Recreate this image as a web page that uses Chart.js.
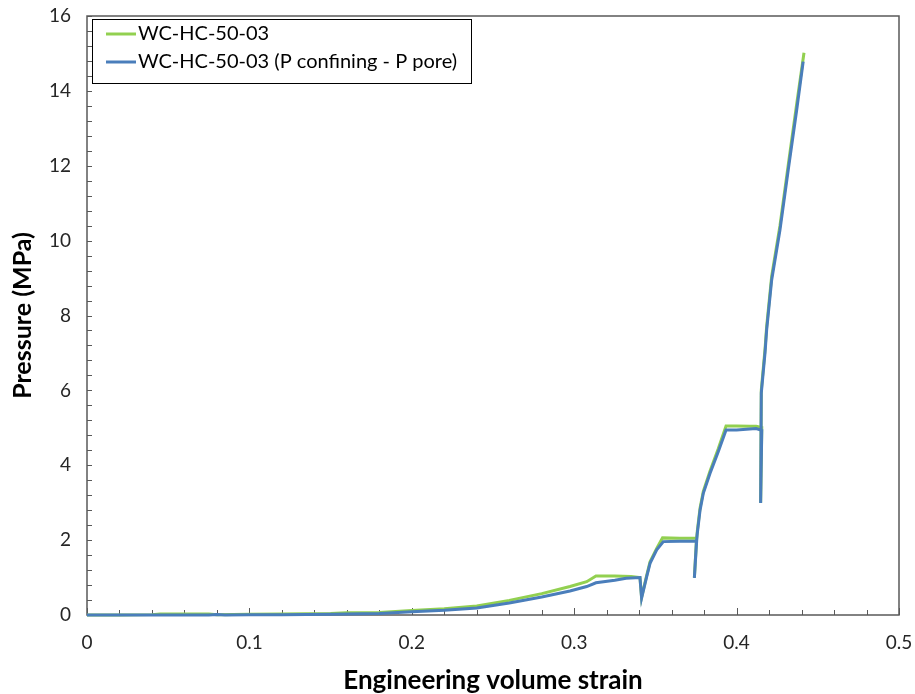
<!DOCTYPE html>
<html>
<head>
<meta charset="utf-8">
<script src="https://cdn.jsdelivr.net/npm/chart.js@4/dist/chart.umd.min.js"></script>
<style>
    body { margin: 0; background: #fff; }
    #contenedor { width: 915px; height: 694px; }
</style>
</head>
<body>
<div id="contenedor"><canvas id="grafica"></canvas></div>
<script>
// Presion total (WC-HC-50-03)
const deformacionTotal = [0, 0.02, 0.04, 0.045, 0.075, 0.08, 0.1, 0.12, 0.15, 0.16, 0.18, 0.2, 0.22, 0.24, 0.26, 0.28, 0.2974, 0.3077, 0.3134, 0.325, 0.335, 0.3405,
    0.3415, 0.3446, 0.3467, 0.3508, 0.3544, 0.365, 0.3754,
    0.374, 0.3752, 0.3758, 0.3775, 0.3795, 0.3836, 0.3887, 0.3935, 0.40, 0.408, 0.412, 0.4155,
    0.4148, 0.4152, 0.4175, 0.4185, 0.4216, 0.4267, 0.4318, 0.437, 0.4415];
const presionTotal = [0, 0, 0.01, 0.03, 0.03, 0.01, 0.02, 0.03, 0.04, 0.06, 0.07, 0.12, 0.17, 0.24, 0.39, 0.57, 0.76, 0.89, 1.04, 1.04, 1.03, 1.0,
    0.47, 1.05, 1.42, 1.78, 2.06, 2.05, 2.05,
    1.0, 1.95, 2.24, 2.86, 3.3, 3.84, 4.44, 5.05, 5.05, 5.04, 5.04, 5.01,
    3.0, 6.0, 7.1, 7.7, 9.05, 10.4, 12.02, 13.65, 15.02];

// Presion efectiva (P confinamiento - P poro)
const deformacionEfectiva = [0, 0.02, 0.04, 0.075, 0.08, 0.085, 0.1, 0.12, 0.15, 0.18, 0.2, 0.22, 0.24, 0.26, 0.28, 0.2974, 0.3077, 0.3134, 0.325, 0.332, 0.3405,
    0.3415, 0.3446, 0.3467, 0.3508, 0.3549, 0.365, 0.3754,
    0.374, 0.3752, 0.3758, 0.3775, 0.3795, 0.3836, 0.3887, 0.3935, 0.40, 0.408, 0.412, 0.4155,
    0.4148, 0.4152, 0.4175, 0.4185, 0.4216, 0.4267, 0.4318, 0.437, 0.441];
const presionEfectiva = [0, 0, 0, 0, 0.01, 0, 0.01, 0.01, 0.02, 0.04, 0.09, 0.13, 0.19, 0.32, 0.48, 0.64, 0.76, 0.86, 0.93, 0.98, 1.0,
    0.45, 1.02, 1.38, 1.74, 1.96, 1.97, 1.97,
    0.99, 1.9, 2.18, 2.8, 3.25, 3.78, 4.36, 4.94, 4.94, 4.97, 4.98, 4.93,
    2.99, 5.93, 7.0, 7.61, 8.95, 10.28, 11.89, 13.49, 14.78];

const etiquetasSeries = ['WC-HC-50-03', 'WC-HC-50-03 (P confining - P pore)'];
const tituloX = 'Engineering volume strain';
const tituloY = 'Pressure (MPa)';

const aPuntos = (xs, ys) => xs.map((v, i) => ({ x: v, y: ys[i] }));

// Marco del area de trazado, marcas interiores y leyenda en recuadro
const marcoYLeyenda = {
    id: 'marcoYLeyenda',
    beforeDatasetsDraw(chart) {
        const { ctx, chartArea: a, scales: { x, y } } = chart;
        ctx.save();
        ctx.strokeStyle = '#595959';
        ctx.lineWidth = 1;
        ctx.beginPath();
        for (let i = 0; i <= 25; i++) {
            const px = Math.round(x.getPixelForValue(i * 0.02)) + 0.5;
            const largo = i % 5 === 0 ? 7 : 5;
            ctx.moveTo(px, a.bottom);
            ctx.lineTo(px, a.bottom - largo);
        }
        for (let i = 0; i <= 40; i++) {
            const py = Math.round(y.getPixelForValue(i * 0.4)) + 0.5;
            ctx.moveTo(a.left, py);
            ctx.lineTo(a.left + 5, py);
        }
        ctx.stroke();
        ctx.lineWidth = 1.5;
        ctx.strokeRect(a.left, a.top, a.right - a.left, a.bottom - a.top);
        ctx.restore();
    },
    afterDatasetsDraw(chart) {
        const { ctx } = chart;
        const datasets = chart.data.datasets;
        ctx.save();
        ctx.fillStyle = '#fff';
        ctx.fillRect(92, 19, 379, 64);
        ctx.strokeStyle = '#000';
        ctx.lineWidth = 1;
        ctx.strokeRect(92.5, 19.5, 379, 64);
        ctx.font = '20px Lato';
        ctx.textBaseline = 'middle';
        datasets.forEach((ds, i) => {
            const yy = 34 + i * 28;
            ctx.strokeStyle = ds.borderColor;
            ctx.lineWidth = 3;
            ctx.beginPath();
            ctx.moveTo(106, yy);
            ctx.lineTo(136, yy);
            ctx.stroke();
            ctx.fillStyle = '#000';
            ctx.fillText(ds.label, 138, yy);
        });
        ctx.restore();
    }
};

const ctx = document.getElementById('grafica').getContext('2d');
new Chart(ctx, {
    type: 'scatter',
    data: {
        datasets: [{
            label: etiquetasSeries[0],
            data: aPuntos(deformacionTotal, presionTotal),
            showLine: true,
            borderColor: '#92D050',
            borderWidth: 3,
            pointRadius: 0,
            order: 1,
            clip: false
        }, {
            label: etiquetasSeries[1],
            data: aPuntos(deformacionEfectiva, presionEfectiva),
            showLine: true,
            borderColor: '#4A7EBB',
            borderWidth: 3,
            pointRadius: 0,
            order: 0,
            clip: false
        }]
    },
    options: {
        responsive: true,
        maintainAspectRatio: false,
        animation: false,
        layout: { padding: { top: 16, right: 16, left: 0, bottom: 0 } },
        plugins: {
            legend: { display: false },
            tooltip: { enabled: false }
        },
        scales: {
            x: {
                type: 'linear',
                min: 0,
                max: 0.5,
                grid: { display: false, drawTicks: false },
                border: { display: false },
                ticks: { stepSize: 0.1, padding: 16, color: '#262626', font: { family: 'Lato', size: 19 } },
                title: { display: true, text: tituloX, color: '#000', padding: 0, font: { family: 'Lato', size: 26, weight: 'bold', lineHeight: 1 } },
                afterFit: (escala) => {
                    escala.height = 79;
                    escala.paddingLeft = 0;
                    escala.paddingRight = 0;
                }
            },
            y: {
                min: 0,
                max: 16,
                grid: { display: false, drawTicks: false },
                border: { display: false },
                ticks: { stepSize: 2, padding: 16, color: '#262626', font: { family: 'Lato', size: 19 } },
                title: { display: true, text: tituloY, color: '#000', padding: { top: 10, bottom: 0 }, font: { family: 'Lato', size: 25, weight: 'bold', lineHeight: 1 } },
                afterFit: (escala) => {
                    escala.width = 87;
                    escala.paddingTop = 0;
                    escala.paddingBottom = 0;
                }
            }
        }
    },
    plugins: [marcoYLeyenda]
});
</script>
</body>
</html>
